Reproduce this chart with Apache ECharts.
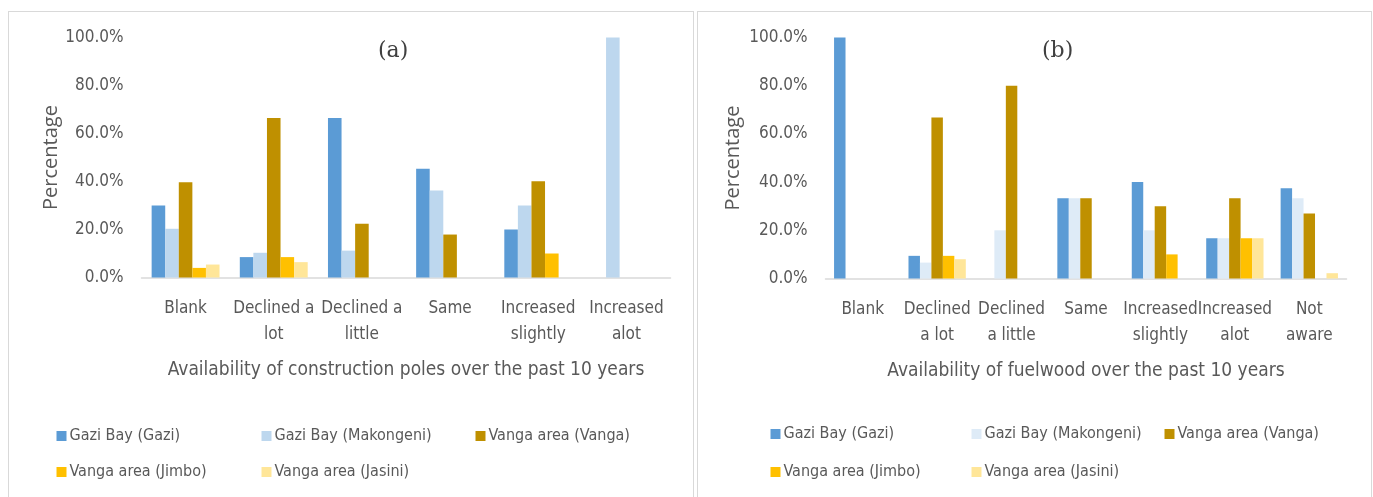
<!DOCTYPE html>
<html>
<head>
<meta charset="utf-8">
<script src="https://cdn.jsdelivr.net/npm/echarts@6/dist/echarts.min.js"></script>
<style>
  body { margin: 0; background: #fff; width: 1373px; height: 497px; overflow: hidden; position: relative; }
  .panel { position: absolute; top: 11px; height: 520px; border: 1.5px solid #d9d9d9; box-sizing: border-box; }
  #chartA { left: 8px; width: 686px; }
  #chartB { left: 697px; width: 675px; }
</style>
</head>
<body>
<div id="chartA" class="panel"></div>
<div id="chartB" class="panel"></div>
<script>
// series names
const seriesNames = ['Gazi Bay (Gazi)', 'Gazi Bay (Makongeni)', 'Vanga area (Vanga)', 'Vanga area (Jimbo)', 'Vanga area (Jasini)'];

// (a) construction poles
const catsA = ['Blank', 'Declined a\nlot', 'Declined a\nlittle', 'Same', 'Increased\nslightly', 'Increased\nalot'];
const gaziA      = [30.0, 8.5, 66.5, 45.3, 20.0, 0];
const makongeniA = [20.3, 10.3, 11.2, 36.3, 30.0, 100.0];
const vangaA     = [39.7, 66.5, 22.4, 17.9, 40.1, 0];
const jimboA     = [4.0, 8.5, 0, 0, 10.0, 0];
const jasiniA    = [5.4, 6.4, 0, 0, 0, 0];

// (b) fuelwood
const catsB = ['Blank', 'Declined\na lot', 'Declined\na little', 'Same', 'Increased\nslightly', 'Increased\nalot', 'Not\naware'];
const gaziB      = [100.0, 9.4, 0, 33.3, 40.0, 16.7, 37.5];
const makongeniB = [0, 6.6, 20.0, 33.3, 20.0, 16.7, 33.3];
const vangaB     = [0, 66.8, 80.0, 33.3, 30.0, 33.3, 27.0];
const jimboB     = [0, 9.4, 0, 0, 10.0, 16.7, 0];
const jasiniB    = [0, 8.0, 0, 0, 0, 16.7, 2.2];

const yTicks = [0, 20, 40, 60, 80, 100];

const colorsA = ['#5b9bd5', '#bdd7ee', '#bf9000', '#ffc000', '#ffe699'];
const colorsB = ['#5b9bd5', '#deebf7', '#bf9000', '#ffc000', '#ffe699'];

const FONT = '"DejaVu Sans Condensed", "Liberation Sans Narrow", sans-serif';
const GREY = '#595959';

function makeChart(el, cfg) {
  const chart = echarts.init(el);
  const legends = [];
  cfg.legendPos.forEach((p, i) => {
    legends.push({
      left: p[0], top: p[1],
      icon: 'rect', itemWidth: 10, itemHeight: 10, itemGap: 0,
      textStyle: { color: GREY, fontSize: 16, fontFamily: FONT, padding: [0, 0, 0, -2] },
      selectedMode: false,
      data: [{ name: seriesNames[i], itemStyle: { color: cfg.colors[i] } }]
    });
  });
  chart.setOption({
    animation: false,
    title: {
      text: cfg.title, left: cfg.titleX, top: 23,
      textStyle: { fontFamily: '"DejaVu Serif", "Liberation Serif", serif', fontWeight: 'normal', fontSize: 22, color: '#404040' }
    },
    legend: legends,
    grid: { left: cfg.grid[0], top: 25.5, width: cfg.grid[1], height: cfg.grid[2] },
    xAxis: {
      type: 'category', data: cfg.cats,
      axisLine: { lineStyle: { color: '#d9d9d9', width: 1.5 } },
      axisTick: { show: false },
      axisLabel: { color: GREY, fontSize: 17, fontFamily: FONT, lineHeight: 26, margin: 18, interval: 0 },
      name: cfg.xName, nameLocation: 'middle', nameGap: 83, nameMoveOverlap: false,
      nameTextStyle: { color: GREY, fontSize: 19, fontFamily: FONT }
    },
    yAxis: {
      type: 'value', min: 0, max: 100, interval: 20,
      splitLine: { show: false },
      axisLine: { show: false }, axisTick: { show: false },
      axisLabel: { color: GREY, fontSize: 17, fontFamily: FONT, margin: 18,
        formatter: v => yTicks.includes(v) ? v.toFixed(1) + '%' : '' },
      name: 'Percentage', nameLocation: 'middle', nameGap: cfg.yNameGap, nameRotate: 90, nameMoveOverlap: false,
      nameTextStyle: { color: GREY, fontSize: 20, fontFamily: '"Open Sans", sans-serif' }
    },
    series: cfg.data.map((d, i) => ({
      name: seriesNames[i], type: 'bar', data: d,
      barGap: '0%', barCategoryGap: '23%',
      itemStyle: { color: cfg.colors[i] }
    }))
  });
}

makeChart(document.getElementById('chartA'), {
  title: '(a)', titleX: 364,
  cats: catsA, data: [gaziA, makongeniA, vangaA, jimboA, jasiniA], colors: colorsA,
  grid: [132.5, 529, 240],
  xName: 'Availability of construction poles over the past 10 years',
  yNameGap: 80,
  legendPos: [[42.5, 411], [247.5, 411], [461.5, 411], [42.5, 447], [247.5, 447]]
});

makeChart(document.getElementById('chartB'), {
  title: '(b)', titleX: 339,
  cats: catsB, data: [gaziB, makongeniB, vangaB, jimboB, jasiniB], colors: colorsB,
  grid: [127.5, 521, 241],
  xName: 'Availability of fuelwood over the past 10 years',
  yNameGap: 82,
  legendPos: [[67.5, 409], [268.5, 409], [461.5, 409], [67.5, 447], [268.5, 447]]
});
</script>
</body>
</html>
